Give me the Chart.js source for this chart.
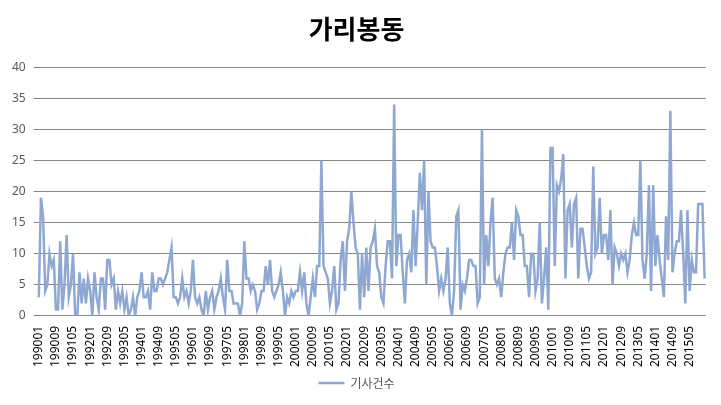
<!DOCTYPE html>
<html>
<head>
<meta charset="utf-8">
<script src="https://cdn.jsdelivr.net/npm/chart.js@4.4.0/dist/chart.umd.min.js"></script>
<style>
  body { margin: 0; background: #fff; }
  #chartBox { width: 721px; height: 405px; }
</style>
</head>
<body>
<div id="chartBox"><canvas id="mychar" width="721" height="405"></canvas></div>
<script>
const years = [1990, 1991, 1992, 1993, 1994, 1995, 1996, 1997, 1998, 1999, 2000, 2001, 2002,
  2003, 2004, 2005, 2006, 2007, 2008, 2009, 2010, 2011, 2012, 2013, 2014, 2015];
const months = ['01', '02', '03', '04', '05', '06', '07', '08', '09', '10', '11', '12'];
const yTicks = [0, 5, 10, 15, 20, 25, 30, 35, 40];
const labelEvery = 8;

// 기사건수, one row per year
const articleCounts = [
  3, 19, 16, 4, 5, 10, 8, 9, 1, 1, 12, 1,
  5, 13, 3, 5, 10, 0, 0, 7, 2, 6, 2, 6,
  4, 0, 7, 3, 1, 6, 6, 1, 9, 9, 5, 6,
  1, 4, 2, 4, 1, 3, 0, 1, 3, 0, 3, 4,
  7, 3, 3, 4, 1, 7, 4, 4, 6, 6, 5, 6,
  7, 9, 11, 3, 3, 2, 3, 6, 3, 4, 2, 4,
  9, 3, 2, 3, 1, 0, 4, 1, 3, 4, 1, 3,
  4, 6, 3, 1, 9, 4, 4, 2, 2, 2, 0, 2,
  12, 6, 6, 4, 5, 4, 1, 2, 4, 4, 8, 5,
  9, 4, 3, 4, 5, 7, 4, 0, 3, 2, 4, 3,
  4, 4, 7, 4, 7, 2, 0, 3, 6, 3, 8, 8,
  25, 8, 7, 6, 2, 4, 8, 1, 2, 9, 12, 4,
  12, 14, 20, 15, 11, 10, 1, 10, 3, 11, 4, 11,
  12, 14, 8, 7, 3, 2, 8, 12, 12, 6, 34, 8,
  13, 13, 7, 2, 9, 10, 7, 17, 8, 15, 23, 17,
  25, 5, 20, 12, 11, 11, 8, 4, 6, 4, 6, 11,
  2, 0, 4, 16, 17, 1, 5, 4, 6, 9, 9, 8,
  8, 2, 3, 30, 5, 13, 8, 15, 19, 6, 5, 6,
  3, 7, 10, 11, 11, 15, 9, 17, 16, 13, 13, 8,
  8, 3, 10, 10, 4, 6, 15, 2, 6, 11, 1, 27,
  27, 8, 21, 20, 22, 26, 6, 17, 18, 11, 18, 19,
  6, 14, 14, 11, 8, 6, 7, 24, 10, 11, 19, 10,
  13, 13, 9, 17, 5, 11, 10, 8, 10, 9, 10, 7,
  9, 13, 15, 13, 13, 25, 9, 6, 10, 21, 4, 21,
  8, 13, 9, 6, 3, 16, 9, 33, 7, 10, 12, 12,
  17, 10, 2, 17, 4, 9, 7, 7, 18, 18, 18, 6
];

document.addEventListener('DOMContentLoaded', () => {
  let labels = [];
  years.forEach((y) => {
    months.forEach((m) => {
      labels.push('' + y + m);
    });
  });

  let ctx = document.getElementById('mychar').getContext('2d');
  let lineColor = 'rgb(143,168,210)';

  new Chart(ctx, {
    type: 'line',
    data: {
      labels: labels,
      datasets: [
        {
          label: '기사건수',
          data: articleCounts,
          borderColor: lineColor,
          backgroundColor: lineColor,
          borderWidth: 2.5,
          pointRadius: 0,
          pointStyle: 'line',
          tension: 0,
        },
      ],
    },
    options: {
      responsive: false,
      animation: false,
      layout: { padding: { left: 4, right: 12, top: 0, bottom: 6 } },
      plugins: {
        title: {
          display: true,
          text: '가리봉동',
          color: '#000',
          font: { family: 'Noto Sans CJK KR', size: 26, weight: 'bold' },
          padding: { top: 14, bottom: 22 },
        },
        legend: {
          position: 'bottom',
          labels: {
            usePointStyle: true,
            pointStyleWidth: 26,
            color: '#595959',
            font: { family: 'Noto Sans CJK KR', size: 12 },
            padding: 8,
          },
        },
        tooltip: { enabled: false },
      },
      scales: {
        x: {
          offset: true,
          grid: { display: false },
          border: { display: false },
          ticks: {
            autoSkip: false,
            minRotation: 90,
            maxRotation: 90,
            color: '#000',
            font: { family: 'Noto Sans', size: 12 },
            padding: 2,
            callback: function (val, index) {
              return index % labelEvery === 0 ? labels[index] : '';
            },
          },
        },
        y: {
          min: yTicks[0],
          max: yTicks[yTicks.length - 1],
          afterBuildTicks: (axis) => {
            axis.ticks = yTicks.map((v) => ({ value: v }));
          },
          grid: { color: '#868686', tickLength: 4 },
          border: { display: false },
          ticks: {
            color: '#595959',
            font: { family: 'Noto Sans', size: 12 },
            padding: 8,
          },
        },
      },
    },
  });
});
</script>
</body>
</html>
